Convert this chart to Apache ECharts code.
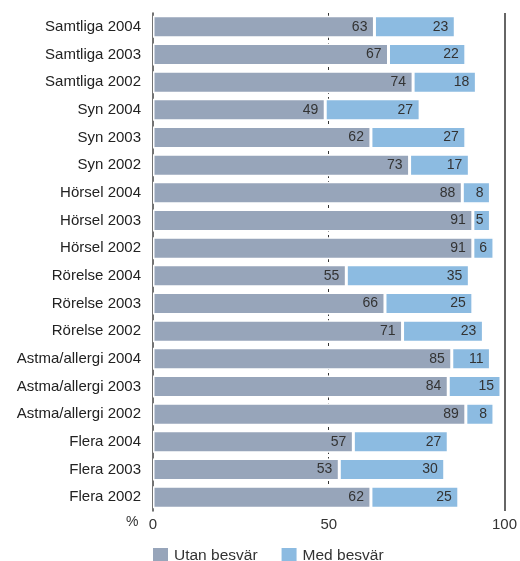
<!DOCTYPE html>
<html>
<head>
<meta charset="utf-8">
<script src="https://cdn.jsdelivr.net/npm/echarts@6/dist/echarts.min.js"></script>
<style>
  html, body { margin: 0; padding: 0; background: #fff; }
  #chart { width: 520px; height: 561px; }
</style>
</head>
<body>
<div id="chart"></div>
<script>
// Groups and survey years, top to bottom
const categories = [
  'Samtliga 2004', 'Samtliga 2003', 'Samtliga 2002',
  'Syn 2004', 'Syn 2003', 'Syn 2002',
  'Hörsel 2004', 'Hörsel 2003', 'Hörsel 2002',
  'Rörelse 2004', 'Rörelse 2003', 'Rörelse 2002',
  'Astma/allergi 2004', 'Astma/allergi 2003', 'Astma/allergi 2002',
  'Flera 2004', 'Flera 2003', 'Flera 2002'
];
// Share (%) without trouble
const utanBesvar = [63, 67, 74, 49, 62, 73, 88, 91, 91, 55, 66, 71, 85, 84, 89, 57, 53, 62];
// Share (%) with trouble
const medBesvar = [23, 22, 18, 27, 27, 17, 8, 5, 6, 35, 25, 23, 11, 15, 8, 27, 30, 25];
const seriesNames = ['Utan besvär', 'Med besvär'];
const xTicks = { min: 0, max: 100, interval: 50 };

const FONT = '"Liberation Sans", Arial, Helvetica, sans-serif';
const chart = echarts.init(document.getElementById('chart'), null, { renderer: 'canvas' });

const barLabel = {
  show: true,
  position: 'insideRight',
  distance: 7,
  color: '#333',
  fontSize: 14,
  fontFamily: FONT
};

chart.setOption({
  animation: false,
  textStyle: { fontFamily: FONT },
  grid: { left: 153, right: 14, top: 13, bottom: 50 },
  legend: {
    data: seriesNames,
    left: 146,
    top: 541,
    icon: 'rect',
    itemWidth: 17,
    itemHeight: 17,
    itemGap: 22,
    textStyle: { fontSize: 15.5, color: '#333', fontFamily: FONT }
  },
  xAxis: {
    type: 'value',
    min: xTicks.min,
    max: xTicks.max,
    interval: xTicks.interval,
    axisLine: { show: false },
    axisTick: { show: false },
    axisLabel: { fontSize: 15, color: '#333', margin: 6, fontFamily: FONT },
    splitLine: {
      show: true,
      lineStyle: { color: ['rgba(0,0,0,0)', '#333', 'rgba(0,0,0,0)'], type: [3, 3], width: 1 }
    }
  },
  yAxis: {
    type: 'category',
    inverse: true,
    data: categories,
    axisLine: { show: true, lineStyle: { color: '#444', width: 1.5 } },
    axisTick: { show: false },
    axisLabel: { fontSize: 15, color: '#222', margin: 12, fontFamily: FONT }
  },
  graphic: [{
    type: 'text',
    left: 126,
    top: 515,
    style: { text: '%', fontSize: 14, fill: '#333', fontFamily: FONT }
  }],
  series: [
    {
      name: seriesNames[0],
      type: 'bar',
      stack: 'total',
      barWidth: 22,
      data: utanBesvar,
      itemStyle: { color: '#97a5ba', borderColor: '#fff', borderWidth: 1.5 },
      label: barLabel,
      markLine: {
        silent: true,
        symbol: 'none',
        label: { show: false },
        lineStyle: { color: '#333', type: 'solid', width: 1.5 },
        data: [{ xAxis: 100 }]
      }
    },
    {
      name: seriesNames[1],
      type: 'bar',
      stack: 'total',
      barWidth: 22,
      data: medBesvar,
      itemStyle: { color: '#8cbbe1', borderColor: '#fff', borderWidth: 1.5 },
      label: barLabel
    }
  ]
});
</script>
</body>
</html>
